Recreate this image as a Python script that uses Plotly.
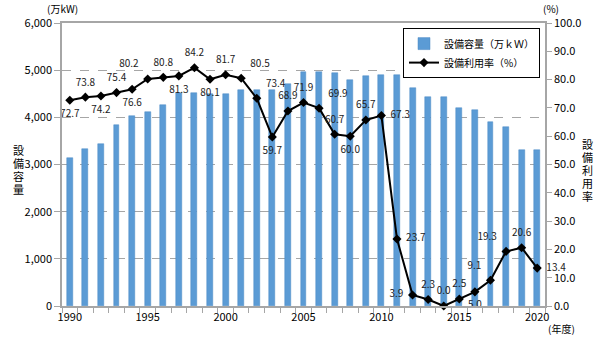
import plotly.graph_objects as go

# Fiscal years 1990-2020
years = list(range(1990, 2021))

# Installed capacity (万kW)
capacity = [3148, 3323, 3442, 3838, 4037, 4119, 4255, 4508, 4508, 4492,
            4492, 4574, 4574, 4574, 4712, 4958, 4958, 4947, 4793, 4885,
            4896, 4896, 4615, 4426, 4426, 4205, 4148, 3908, 3804, 3308,
            3308]

# Capacity factor (%)
utilization = [72.7, 73.8, 74.2, 75.4, 76.6, 80.2, 80.8, 81.3, 84.2, 80.1,
               81.7, 80.5, 73.4, 59.7, 68.9, 71.9, 69.9, 60.7, 60.0, 65.7,
               67.3, 23.7, 3.9, 2.3, 0.0, 2.5, 5.0, 9.1, 19.3, 20.6,
               13.4]

# Where each value label sits relative to its marker
label_pos = ["bottom center", "top center", "bottom center", "top center", "bottom center",
             "top left", "top center", "bottom center", "top center", "bottom center",
             "top center", "top right", "top right", "bottom center", "top center",
             "top center", "top right", "top center", "bottom center", "top center",
             "middle right", "middle right", "middle left", "top center", "top center",
             "top center", "bottom center", "top left", "top left", "top center",
             "middle right"]

year_ticks = [1990, 1995, 2000, 2005, 2010, 2015, 2020]

left_title = "設備容量"
right_title = "設備利用率"

FONT = "Noto Sans CJK JP"
GRID = "#a6a6a6"

fig = go.Figure()

fig.add_trace(go.Bar(
    x=years, y=capacity, name="設備容量（万ｋＷ）",
    marker=dict(color="#5b9bd5", line=dict(color="#4a88c4", width=0.5)),
    width=0.38, yaxis="y",
))

fig.add_trace(go.Scatter(
    x=years, y=utilization, name="設備利用率（%）",
    mode="lines+markers",
    line=dict(color="black", width=2),
    marker=dict(symbol="diamond", size=7, color="black"),
    yaxis="y2", cliponaxis=False,
))

# Value labels, pushed away from the markers by an invisible, larger marker
fig.add_trace(go.Scatter(
    x=years, y=utilization, mode="markers+text",
    marker=dict(size=13, opacity=0),
    text=[f"{v:.1f}" for v in utilization],
    textposition=label_pos,
    textfont=dict(size=10, color="#222222", family=FONT),
    yaxis="y2", cliponaxis=False, showlegend=False, hoverinfo="skip",
))

fig.update_layout(
    width=600, height=338,
    margin=dict(l=62, r=55, t=23, b=32),
    paper_bgcolor="white", plot_bgcolor="white",
    font=dict(family=FONT, size=11, color="black"),
    bargap=0,
    xaxis=dict(
        range=[1989.5, 2020.5],
        tickvals=year_ticks, ticktext=[str(y) for y in year_ticks],
        ticks="", showgrid=False,
        showline=True, linecolor=GRID, linewidth=1.5, mirror=True,
        minor=dict(ticks="outside", tick0=1989.5, dtick=1, ticklen=5,
                   tickcolor=GRID, showgrid=False),
        tickfont=dict(size=11),
    ),
    yaxis=dict(
        range=[0, 6000], dtick=1000, tickformat=",",
        showgrid=True, gridcolor=GRID, griddash="dash", gridwidth=1,
        zeroline=False,
        showline=True, linecolor=GRID, linewidth=1.5,
        ticks="outside", ticklen=6, tickcolor=GRID,
        tickfont=dict(size=11),
    ),
    yaxis2=dict(
        range=[0, 100], dtick=10, tickformat=".1f",
        overlaying="y", side="right",
        showgrid=False, zeroline=False,
        showline=True, linecolor=GRID, linewidth=1.5,
        ticks="outside", ticklen=5, tickcolor=GRID,
        tickfont=dict(size=11),
    ),
    legend=dict(
        x=0.706, y=0.982, xanchor="left", yanchor="top",
        bgcolor="white", bordercolor="black", borderwidth=1,
        font=dict(size=10), tracegroupgap=4,
    ),
    showlegend=True,
)

fig.add_annotation(text="(万kW)", xref="paper", yref="paper", x=0.002, y=1.05,
                   xanchor="center", yanchor="middle", showarrow=False,
                   font=dict(size=10))
fig.add_annotation(text="(%)", xref="paper", yref="paper", x=1.012, y=1.05,
                   xanchor="center", yanchor="middle", showarrow=False,
                   font=dict(size=10))
fig.add_annotation(text="(年度)", xref="paper", yref="paper", x=1.035, y=-0.078,
                   xanchor="center", yanchor="middle", showarrow=False,
                   font=dict(size=10))

# Vertical axis titles, one upright character per annotation
for i, ch in enumerate(left_title):
    fig.add_annotation(text=ch, xref="paper", yref="paper",
                       x=-0.091, y=0.55 - i * 0.046, xanchor="center", yanchor="middle",
                       showarrow=False, font=dict(size=11))
for i, ch in enumerate(right_title):
    fig.add_annotation(text=ch, xref="paper", yref="paper",
                       x=1.089, y=0.572 - i * 0.046, xanchor="center", yanchor="middle",
                       showarrow=False, font=dict(size=11))

fig.write_html("out.html")
